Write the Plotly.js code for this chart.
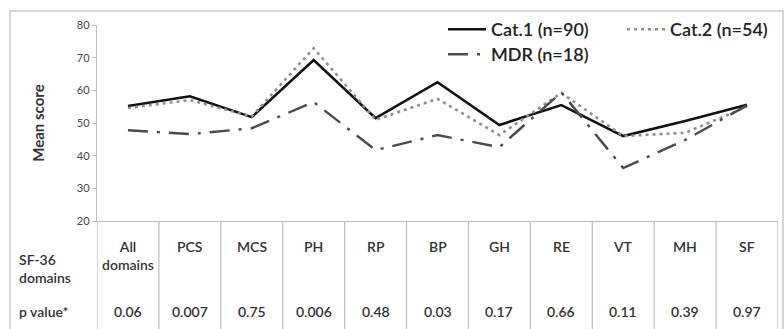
<!DOCTYPE html>
<html><head><meta charset="utf-8">
<script src="https://cdn.plot.ly/plotly-3.0.1.min.js"></script>
<style>body{margin:0;background:#fff}#c{width:784px;height:329px}</style>
</head><body><div id="c"></div>
<script>
var categories = ['All domains','PCS','MCS','PH','RP','BP','GH','RE','VT','MH','SF'];
var labelLines = [['All','domains'],['PCS'],['MCS'],['PH'],['RP'],['BP'],['GH'],['RE'],['VT'],['MH'],['SF']];
var pValues = ['0.06','0.007','0.75','0.006','0.48','0.03','0.17','0.66','0.11','0.39','0.97'];
var cat1 = [55.2, 58.2, 51.8, 69.3, 51.5, 62.5, 49.4, 55.5, 46.0, 50.6, 55.6];
var cat2 = [54.6, 57.0, 52.0, 72.9, 51.0, 57.4, 46.3, 59.2, 46.0, 47.0, 55.0];
var mdr  = [47.8, 46.6, 48.4, 56.4, 41.7, 46.3, 42.6, 59.4, 36.2, 44.8, 55.4];
var seriesNames = ['Cat.1 (n=90)','Cat.2 (n=54)','MDR (n=18)'];
var rowLabels = ['SF-36<br>domains','p value*'];

var xs = categories.map(function(_,i){return i;});
var F = 'Lato, "Open Sans", sans-serif';
var traces = [
 {x:xs,y:cat1,name:seriesNames[0],mode:'lines',line:{color:'#111',width:2.6},legend:'legend'},
 {x:xs,y:cat2,name:seriesNames[1],mode:'lines',line:{color:'#8f8f8f',width:2.6,dash:'3px,4px'},legend:'legend'},
 {x:xs,y:mdr,name:seriesNames[2],mode:'lines',line:{color:'#4a4a4a',width:2.4,dash:'20px,9px,3px,9px'},legend:'legend2'}
];
var plotL=97, plotR=778, plotT=25, plotB=221, H=329;
var pw=plotR-plotL, ph=plotB-plotT;
function py(Y){return (plotB-Y)/ph;}
function px(X){return (X-plotL)/pw;}
var shapes=[], ann=[];
shapes.push({type:'rect',xref:'paper',yref:'paper',x0:px(10),x1:px(783),y0:py(340),y1:py(11),line:{color:'#c8c8c8',width:1.5}});
for(var i=0;i<=categories.length;i++){
  shapes.push({type:'line',xref:'x',yref:'paper',x0:i-0.5,x1:i-0.5,y0:py(221),y1:py(340),line:{color:'#bdbdbd',width:1.2}});
}
var tf={family:F,size:14,color:'#333',weight:600};
categories.forEach(function(c,i){
  ann.push({xref:'x',yref:'paper',x:i,y:py(236),yanchor:'top',text:labelLines[i].join('<br>'),showarrow:false,font:tf,align:'center'});
  ann.push({xref:'x',yref:'paper',x:i,y:py(311),yanchor:'middle',text:pValues[i],showarrow:false,font:tf});
});
ann.push({xref:'paper',yref:'paper',x:px(17),xanchor:'left',y:py(268),yanchor:'middle',text:rowLabels[0],showarrow:false,align:'left',font:tf});
ann.push({xref:'paper',yref:'paper',x:px(17),xanchor:'left',y:py(311),yanchor:'middle',text:rowLabels[1],showarrow:false,align:'left',font:tf});

var lf={family:F,size:18,color:'#222',weight:600};
var layout={
 width:784,height:329,margin:{l:plotL,r:784-plotR,t:plotT,b:H-plotB,autoexpand:false},
 paper_bgcolor:'#fff',plot_bgcolor:'#fff',
 font:{family:F,color:'#333'},
 xaxis:{range:[-0.5,10.5],showticklabels:false,showgrid:false,zeroline:false,showline:true,linecolor:'#bdbdbd',linewidth:1.2,ticks:'',fixedrange:true},
 yaxis:{range:[20,80],dtick:10,showgrid:false,zeroline:false,showline:true,linecolor:'#bdbdbd',linewidth:1.2,ticks:'outside',ticklen:4,tickcolor:'#bdbdbd',
   tickfont:{family:F,size:11,color:'#444'},title:{text:'<b>Mean score</b>',font:{family:F,size:15,color:'#333'},standoff:28}},
 showlegend:true,
 legend:{orientation:'h',xref:'container',yref:'container',x:443/784,xanchor:'left',y:1-11/329,yanchor:'top',entrywidth:126,itemwidth:38,bgcolor:'rgba(0,0,0,0)',font:lf},
 legend2:{orientation:'h',xref:'container',yref:'container',x:443/784,xanchor:'left',y:1-36/329,yanchor:'top',itemwidth:38,bgcolor:'rgba(0,0,0,0)',font:lf},
 shapes:shapes,annotations:ann
};
Plotly.newPlot('c',traces,layout,{displayModeBar:false,staticPlot:true});
</script></body></html>
